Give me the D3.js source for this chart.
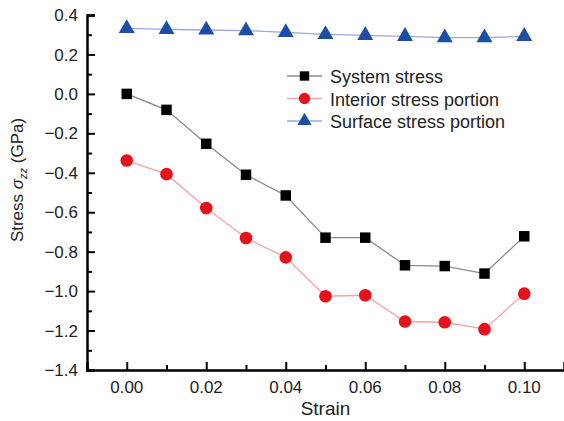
<!DOCTYPE html>
<html lang="en">
<head>
<meta charset="UTF-8">
<title>Stress vs Strain</title>
<script src="https://d3js.org/d3.v7.min.js"></script>
<style>
  body { margin: 0; background: #fff; }
  text { font-family: "Liberation Sans", Arial, sans-serif; fill: #222; }
</style>
</head>
<body>
<div id="chart"></div>
<script>
    // Data
    const strain = [0.00, 0.01, 0.02, 0.03, 0.04, 0.05, 0.06, 0.07, 0.08, 0.09, 0.10];
    const systemStress = [0.000, -0.081, -0.253, -0.410, -0.515, -0.729, -0.729, -0.869, -0.873, -0.911, -0.722];
    const interiorStress = [-0.338, -0.407, -0.579, -0.731, -0.829, -1.026, -1.021, -1.154, -1.158, -1.193, -1.013];
    const surfaceStress = [0.332, 0.327, 0.324, 0.321, 0.312, 0.302, 0.297, 0.292, 0.285, 0.285, 0.292];
    const xTicks = [0.00, 0.02, 0.04, 0.06, 0.08, 0.10];
    const yTicks = [0.4, 0.2, 0.0, -0.2, -0.4, -0.6, -0.8, -1.0, -1.2, -1.4];
    const seriesNames = ["System stress", "Interior stress portion", "Surface stress portion"];

    const W = 564, H = 421;
    const margin = {top: 15, right: 0, bottom: 51, left: 87};

    const svg = d3.select('#chart').append('svg')
        .attr('width', W).attr('height', H);

    const x = d3.scaleLinear().domain([-0.01, 0.11]).range([margin.left, W - margin.right]);
    const y = d3.scaleLinear().domain([-1.4, 0.4]).range([H - margin.bottom, margin.top]);

    // minus sign formatting like the original
    const fmtY = d => d3.format(".1f")(d).replace("-", "\u2212");

    // Y axis, ticks pointing inward
    const yAxis = svg.append('g')
        .attr('transform', `translate(${margin.left},0)`)
        .call(d3.axisRight(y).tickValues(yTicks).tickSize(8).tickFormat(''));
    svg.append('g')
        .attr('transform', `translate(${margin.left},0)`)
        .call(d3.axisRight(y).tickValues(d3.range(-1.3, 0.4, 0.2)).tickSize(5).tickFormat(''))
        .select('.domain').remove();
    yAxis.selectAll('.domain').attr('stroke-width', 2.5);
    svg.selectAll('.tick line').attr('stroke-width', 2);
    svg.append('g').selectAll('text').data(yTicks).join('text')
        .attr('x', margin.left - 9).attr('y', d => y(d)).attr('dy', '0.36em')
        .attr('text-anchor', 'end').attr('font-size', 17)
        .text(fmtY);

    // X axis, ticks pointing inward
    const xAxis = svg.append('g')
        .attr('transform', `translate(0,${H - margin.bottom})`)
        .call(d3.axisTop(x).tickValues(xTicks).tickSize(8).tickFormat(''));
    const xMinor = svg.append('g')
        .attr('transform', `translate(0,${H - margin.bottom})`)
        .call(d3.axisTop(x).tickValues([0.01, 0.03, 0.05, 0.07, 0.09]).tickSize(5).tickFormat(''));
    xMinor.select('.domain').remove();
    xAxis.select('.domain').attr('stroke-width', 2.5);
    svg.selectAll('.tick line').attr('stroke-width', 2);
    svg.append('g').selectAll('text').data(xTicks).join('text')
        .attr('x', d => x(d)).attr('y', 393)
        .attr('text-anchor', 'middle').attr('font-size', 17)
        .text(d => d3.format(".2f")(d));

    // axis titles
    svg.append('text')
        .attr('x', x(0.05)).attr('y', 415)
        .attr('text-anchor', 'middle').attr('font-size', 19)
        .text('Strain');
    const yt = svg.append('text')
        .attr('transform', `translate(23,${180}) rotate(-90)`)
        .attr('text-anchor', 'middle').attr('font-size', 17);
    yt.append('tspan').text('Stress ');
    yt.append('tspan').attr('font-style', 'italic').text('\u03c3');
    yt.append('tspan').attr('font-style', 'italic').attr('font-size', 11).attr('dy', 4).text('zz');
    yt.append('tspan').attr('dy', -4).text(' (GPa)');

    const series = [
        {name: seriesNames[0], values: systemStress, line: '#8a8a8a', fill: '#000000', shape: d3.symbolSquare, size: 110},
        {name: seriesNames[1], values: interiorStress, line: '#f4a3a6', fill: '#e5121c', shape: d3.symbolCircle, size: 125},
        {name: seriesNames[2], values: surfaceStress, line: '#9aa6dc', fill: '#1d4ea6', shape: d3.symbolTriangle, size: 110}
    ];

    const line = d3.line()
        .x((d, i) => x(strain[i]))
        .y(d => y(d));

    series.forEach(s => {
        svg.append('path')
            .datum(s.values)
            .attr('fill', 'none')
            .attr('stroke', s.line)
            .attr('stroke-width', 1.3)
            .attr('d', line);
        svg.append('g').selectAll('path').data(s.values).join('path')
            .attr('transform', (d, i) => `translate(${x(strain[i])},${y(d)})`)
            .attr('d', d3.symbol().type(s.shape).size(s.size))
            .attr('fill', s.fill);
    });

    // legend
    const legend = svg.append('g').attr('transform', 'translate(287,76)');
    series.forEach((s, i) => {
        const g = legend.append('g').attr('transform', `translate(0,${i * 22.5})`);
        g.append('line').attr('x1', 0).attr('x2', 35).attr('stroke', s.line).attr('stroke-width', 1.3);
        g.append('path').attr('transform', 'translate(17.5,0)')
            .attr('d', d3.symbol().type(s.shape).size(s.size * 0.8)).attr('fill', s.fill);
        g.append('text').attr('x', 43).attr('dy', 7).attr('font-size', 18).text(s.name);
    });
</script>
</body>
</html>
